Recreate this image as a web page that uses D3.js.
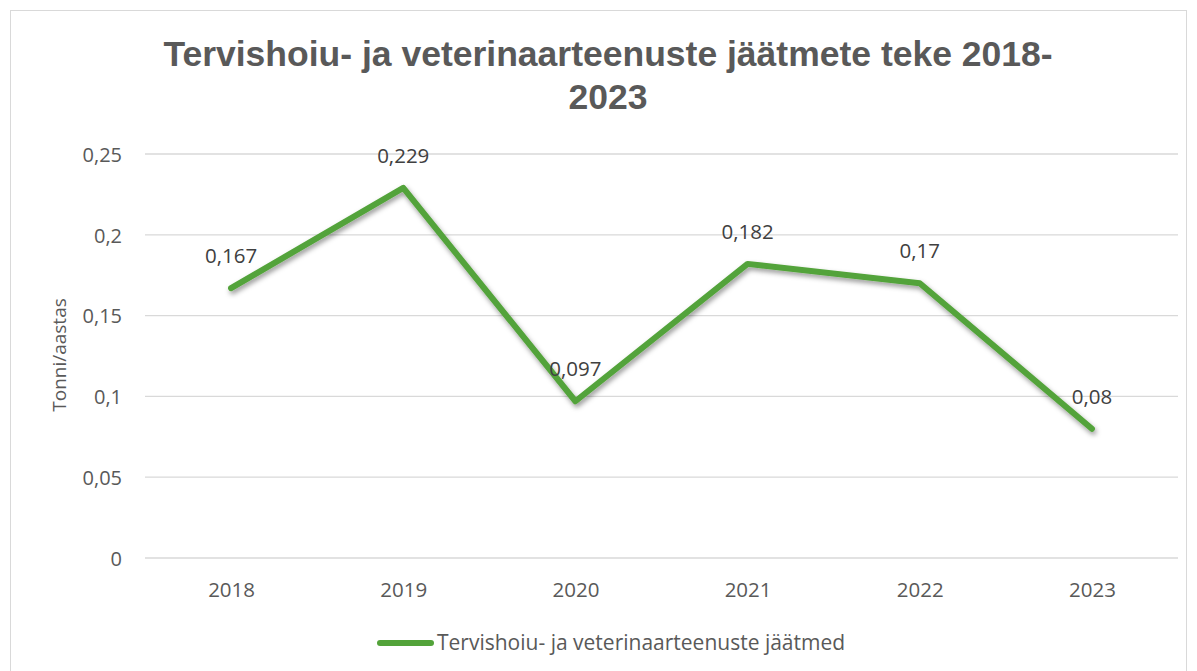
<!DOCTYPE html>
<html><head><meta charset="utf-8">
<script src="https://cdn.jsdelivr.net/npm/d3@7"></script>
<style>html,body{margin:0;padding:0;background:#fff;}</style>
</head><body>
<svg id="c" width="1197" height="671"></svg>
<script>
const years = ["2018","2019","2020","2021","2022","2023"];
const values = [0.167,0.229,0.097,0.182,0.17,0.08];
const valueLabels = ["0,167","0,229","0,097","0,182","0,17","0,08"];
const yTicks = [0,0.05,0.1,0.15,0.2,0.25];
const yTickLabels = ["0","0,05","0,1","0,15","0,2","0,25"];
const seriesName = "Tervishoiu- ja veterinaarteenuste jäätmed";
const titleLines = ["Tervishoiu- ja veterinaarteenuste jäätmete teke 2018-","2023"];
const yTitle = "Tonni/aastas";

const svg = d3.select("#c");
const font = "'Open Sans', 'Noto Sans', sans-serif";
const green = "#53a33a";

svg.append("rect").attr("x",10.5).attr("y",10.5).attr("width",1176).attr("height",670)
  .attr("fill","#fff").attr("stroke","#d9d9d9");

const defs = svg.append("defs");
const f = defs.append("filter").attr("id","sh").attr("x","-10%").attr("y","-10%").attr("width","120%").attr("height","130%");
f.append("feDropShadow").attr("dx",1.5).attr("dy",3).attr("stdDeviation",2.5).attr("flood-color","#000").attr("flood-opacity",0.4);

const x = d3.scalePoint().domain(years).range([145,1178]).padding(0.5);
const y = d3.scaleLinear().domain([0,0.25]).range([558,154]);

// gridlines
svg.append("g").selectAll("line").data(yTicks).join("line")
  .attr("x1",145).attr("x2",1178).attr("y1",d=>y(d)).attr("y2",d=>y(d))
  .attr("stroke","#d9d9d9").attr("stroke-width",1.3);

// y axis
const ya = svg.append("g").attr("transform","translate(145,0)")
  .call(d3.axisLeft(y).tickValues(yTicks).tickSize(0).tickPadding(23).tickFormat((d,i)=>yTickLabels[i]));
ya.select(".domain").remove();
ya.selectAll("text").attr("font-family",font).attr("font-size",20).attr("fill","#595959").attr("dy","0.36em");

// x axis
const xa = svg.append("g").attr("transform","translate(0,558)")
  .call(d3.axisBottom(x).tickSize(0));
xa.select(".domain").remove();
xa.selectAll("text").attr("font-family",font).attr("font-size",20.5).attr("fill","#595959")
  .attr("y",39).attr("dy",0);

// title
svg.append("g").selectAll("text").data(titleLines).join("text")
  .attr("x",608).attr("y",(d,i)=>66+i*43).attr("text-anchor","middle")
  .attr("font-family","'Liberation Sans', Arial, sans-serif").attr("font-weight","bold")
  .attr("font-size",35.5).attr("fill","#595959").text(d=>d);

// y title
svg.append("text").attr("transform","translate(66,355) rotate(-90)").attr("text-anchor","middle")
  .attr("font-family",font).attr("font-size",19).attr("fill","#595959").text(yTitle);

// line
const line = d3.line().x((d,i)=>x(years[i])).y(d=>y(d));
svg.append("path").datum(values).attr("d",line).attr("fill","none")
  .attr("stroke",green).attr("stroke-width",6).attr("stroke-linejoin","round").attr("stroke-linecap","round")
  .attr("filter","url(#sh)");

// labels
svg.append("g").selectAll("text").data(values).join("text")
  .attr("x",(d,i)=>x(years[i])).attr("y",d=>y(d)-25).attr("text-anchor","middle")
  .attr("font-family",font).attr("font-size",20.5).attr("fill","#404040").text((d,i)=>valueLabels[i]);

// legend
svg.append("line").attr("x1",380).attr("x2",431).attr("y1",643).attr("y2",643)
  .attr("stroke",green).attr("stroke-width",6).attr("stroke-linecap","round");
svg.append("text").attr("x",437).attr("y",650).attr("font-family",font).attr("font-size",21)
  .attr("fill","#595959").text(seriesName);
</script>
</body></html>
